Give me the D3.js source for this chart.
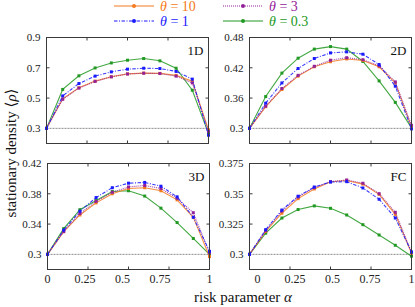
<!DOCTYPE html>
<html><head><meta charset="utf-8">
<script src="https://cdn.jsdelivr.net/npm/d3@7/dist/d3.min.js"></script>
<style>body{margin:0;background:#fff}svg{display:block}</style>
</head><body>
<svg id="chart" width="415" height="307"></svg>
<script>
// ---------- data ----------
const alpha = [0, 0.1, 0.2, 0.3, 0.4, 0.5, 0.6, 0.7, 0.8, 0.9, 1];
const panelNames = ["1D", "2D", "3D", "FC"];
const seriesTheta = ["10", "1", "3", "0.3"];
const xTickLabels = [0, 0.25, 0.5, 0.75, 1];

const yTicks1D = [0.3, 0.5, 0.7, 0.9];
const yTicks2D = [0.3, 0.36, 0.42, 0.48];
const yTicks3D = [0.3, 0.34, 0.38, 0.42];
const yTicksFC = [0.3, 0.325, 0.35, 0.375];

const yMin1D = 0.2, yMin2D = 0.27, yMin3D = 0.28, yMinFC = 0.2875;

// 1D
const d1_theta10 = [0.3, 0.495, 0.568, 0.612, 0.641, 0.660, 0.665, 0.663, 0.650, 0.612, 0.290];
const d1_theta3  = [0.3, 0.492, 0.566, 0.610, 0.640, 0.659, 0.664, 0.662, 0.645, 0.600, 0.280];
const d1_theta1  = [0.3, 0.514, 0.596, 0.645, 0.673, 0.691, 0.697, 0.695, 0.676, 0.625, 0.255];
const d1_theta03 = [0.3, 0.557, 0.647, 0.699, 0.732, 0.750, 0.761, 0.746, 0.697, 0.552, 0.265];
// 2D
const d2_theta10 = [0.3, 0.343, 0.377, 0.4035, 0.422, 0.432, 0.4375, 0.4345, 0.422, 0.390, 0.302];
const d2_theta3  = [0.3, 0.344, 0.379, 0.405, 0.423, 0.435, 0.440, 0.436, 0.424, 0.392, 0.306];
const d2_theta1  = [0.3, 0.350, 0.390, 0.4186, 0.4384, 0.4495, 0.4515, 0.4469, 0.4265, 0.3835, 0.299];
const d2_theta03 = [0.3, 0.363, 0.4095, 0.439, 0.457, 0.462, 0.457, 0.4325, 0.394, 0.3515, 0.301];
// 3D
const d3_theta10 = [0.3, 0.330, 0.352, 0.368, 0.380, 0.387, 0.388, 0.384, 0.372, 0.349, 0.297];
const d3_theta3  = [0.3, 0.330, 0.354, 0.370, 0.382, 0.389, 0.391, 0.387, 0.374, 0.355, 0.302];
const d3_theta1  = [0.3, 0.332, 0.357, 0.375, 0.388, 0.394, 0.395, 0.390, 0.376, 0.349, 0.304];
const d3_theta03 = [0.3, 0.334, 0.359, 0.371, 0.383, 0.384, 0.377, 0.361, 0.342, 0.321, 0.300];
// FC
const dF_theta10 = [0.3, 0.319, 0.334, 0.346, 0.354, 0.360, 0.361, 0.358, 0.3495, 0.333, 0.3009];
const dF_theta3  = [0.3, 0.3196, 0.3358, 0.3474, 0.3551, 0.3600, 0.3614, 0.3587, 0.3501, 0.3347, 0.3017];
const dF_theta1  = [0.3, 0.3204, 0.3366, 0.348, 0.3556, 0.3597, 0.360, 0.3548, 0.3455, 0.330, 0.302];
const dF_theta03 = [0.3, 0.3175, 0.330, 0.337, 0.340, 0.338, 0.3325, 0.3245, 0.316, 0.3075, 0.2985];

// ---------- styles ----------
const colors = {"10": "#f47a20", "1": "#1a1aff", "3": "#93229a", "0.3": "#229922"};
const dashes = {"10": null, "1": "3.5,1.5,1,1.5", "3": "1,1", "0.3": null};
const drawOrder = ["0.3", "10", "3", "1"];

const panelData = {
  "1D": {"10": d1_theta10, "3": d1_theta3, "1": d1_theta1, "0.3": d1_theta03, ticks: yTicks1D, ymin: yMin1D},
  "2D": {"10": d2_theta10, "3": d2_theta3, "1": d2_theta1, "0.3": d2_theta03, ticks: yTicks2D, ymin: yMin2D},
  "3D": {"10": d3_theta10, "3": d3_theta3, "1": d3_theta1, "0.3": d3_theta03, ticks: yTicks3D, ymin: yMin3D},
  "FC": {"10": dF_theta10, "3": dF_theta3, "1": dF_theta1, "0.3": dF_theta03, ticks: yTicksFC, ymin: yMinFC}
};

// layout
const layout = {
  "1D": {x0: 46.5, x1: 208.5, y0: 37.5, y1: 143.5, xlabels: false, loff: 0},
  "2D": {x0: 249.5, x1: 411.5, y0: 37.5, y1: 143.5, xlabels: false, loff: 0},
  "3D": {x0: 47.5, x1: 209.5, y0: 163.5, y1: 269.5, xlabels: true, loff: 0},
  "FC": {x0: 249.5, x1: 411.5, y0: 163.5, y1: 269.5, xlabels: true, loff: 8}
};

const svg = d3.select("#chart");
const serif = "'Liberation Serif', 'DejaVu Serif', serif";
const axisColor = "#3a3a3a";

panelNames.forEach(name => {
  const L = layout[name], D = panelData[name];
  const x = d3.scaleLinear().domain([0, 1]).range([L.x0, L.x1]);
  const top = D.ticks[D.ticks.length - 1];
  const y = d3.scaleLinear().domain([D.ymin, top]).range([L.y1, L.y0]);
  const g = svg.append("g");

  // reference line at 0.3
  g.append("line").attr("x1", L.x0).attr("x2", L.x1)
    .attr("y1", y(0.3)).attr("y2", y(0.3))
    .attr("stroke", "#8a8a8a").attr("stroke-width", 1).attr("stroke-dasharray", "2,1");

  // series
  const line = d3.line().x((d, i) => x(alpha[i])).y(d => y(d));
  drawOrder.forEach(th => {
    const vals = D[th];
    g.append("path").attr("d", line(vals)).attr("fill", "none")
      .attr("stroke", colors[th]).attr("stroke-width", 1.1).attr("stroke-opacity", 0.85)
      .attr("stroke-dasharray", dashes[th]);
    g.selectAll(null).data(vals).enter().append("rect")
      .attr("x", (d, i) => x(alpha[i]) - 1.5).attr("y", d => y(d) - 1.5)
      .attr("width", 3).attr("height", 3).attr("fill", colors[th]);
  });

  // frame
  g.append("rect").attr("x", L.x0).attr("y", L.y0)
    .attr("width", L.x1 - L.x0).attr("height", L.y1 - L.y0)
    .attr("fill", "none").attr("stroke", axisColor).attr("stroke-width", 1);

  // inward ticks
  [0.25, 0.5, 0.75].forEach(v => {
    g.append("line").attr("x1", x(v)).attr("x2", x(v)).attr("y1", L.y1).attr("y2", L.y1 - 3).attr("stroke", axisColor);
    g.append("line").attr("x1", x(v)).attr("x2", x(v)).attr("y1", L.y0).attr("y2", L.y0 + 3).attr("stroke", axisColor);
  });
  D.ticks.slice(1, -1).forEach(v => {
    g.append("line").attr("x1", L.x0).attr("x2", L.x0 + 3).attr("y1", y(v)).attr("y2", y(v)).attr("stroke", axisColor);
    g.append("line").attr("x1", L.x1).attr("x2", L.x1 - 3).attr("y1", y(v)).attr("y2", y(v)).attr("stroke", axisColor);
  });

  // y tick labels
  g.selectAll(null).data(D.ticks).enter().append("text")
    .attr("x", L.x0 - 6).attr("y", d => y(d) + 3.8)
    .attr("text-anchor", "end").attr("font-family", serif).attr("font-size", 11)
    .attr("fill", "#222").text(d => String(d));

  // x tick labels
  if (L.xlabels) {
    const xl = d3.scaleLinear().domain([0, 0.75, 1])
      .range([L.x0 + L.loff, L.x0 + L.loff + 112.5, L.x1]);
    g.selectAll(null).data(xTickLabels).enter().append("text")
      .attr("x", d => xl(d)).attr("y", L.y1 + 13)
      .attr("text-anchor", "middle").attr("font-family", serif).attr("font-size", 12)
      .attr("fill", "#222").text(d => String(d));
  }

  // panel label
  g.append("text").attr("x", L.x1 - 5).attr("y", L.y0 + 17)
    .attr("text-anchor", "end").attr("font-family", serif).attr("font-size", 13)
    .attr("fill", "#111").text(name);
});

// axis titles
svg.append("text").attr("x", 243).attr("y", 302).attr("text-anchor", "middle")
  .attr("font-family", serif).attr("font-size", 15).attr("fill", "#111")
  .call(t => { t.append("tspan").text("risk parameter  "); t.append("tspan").attr("font-style", "italic").text("α"); });

svg.append("text").attr("transform", "translate(16,153) rotate(-90)").attr("text-anchor", "middle")
  .attr("font-family", serif).attr("font-size", 15).attr("fill", "#111")
  .call(t => { t.append("tspan").text("stationary density  ⟨"); t.append("tspan").attr("font-style", "italic").text("ρ"); t.append("tspan").text("⟩"); });

// legend
const legendPos = [
  {th: "10", x: 114, y: 6},
  {th: "3", x: 223, y: 6},
  {th: "1", x: 114, y: 21},
  {th: "0.3", x: 223, y: 21}
];
legendPos.forEach(p => {
  const c = colors[p.th];
  svg.append("line").attr("x1", p.x).attr("x2", p.x + 40).attr("y1", p.y).attr("y2", p.y)
    .attr("stroke", c).attr("stroke-width", 1.1).attr("stroke-dasharray", dashes[p.th]);
  svg.append("circle").attr("cx", p.x + 20).attr("cy", p.y).attr("r", 2).attr("fill", c);
  svg.append("text").attr("x", p.x + 46).attr("y", p.y + 5)
    .attr("font-family", serif).attr("font-size", 14).attr("fill", c)
    .call(t => { t.append("tspan").attr("font-style", "italic").text("θ"); t.append("tspan").text(" = " + p.th); });
});
</script>
</body></html>
